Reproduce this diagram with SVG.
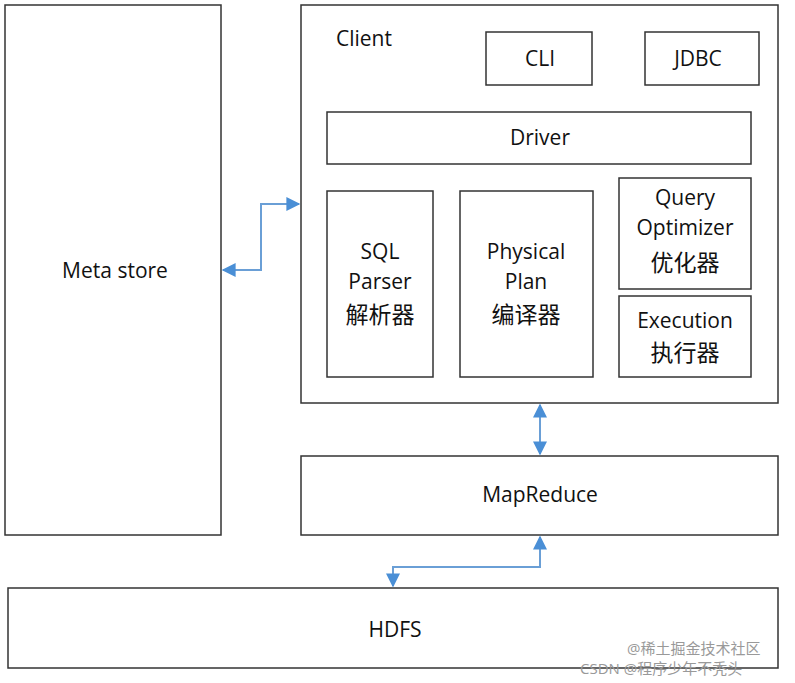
<svg xmlns="http://www.w3.org/2000/svg" width="795" height="683" viewBox="0 0 795 683">
<style>
rect{fill:#fff;stroke:#333;stroke-width:1.5}
text{font-family:"Open Sans","Noto Sans CJK SC",sans-serif;font-size:21px;fill:#111;text-anchor:middle}
.z{font-size:23px}
.c{fill:none;stroke:#6a9fd6;stroke-width:2}
.w{font-size:15px;fill:#999;text-anchor:start}
</style>
<defs><marker id="b" viewBox="0 0 10 10" refX="9" refY="5" markerWidth="20" markerHeight="14" orient="auto-start-reverse" markerUnits="userSpaceOnUse"><path d="M0,0L10,5L0,10z" fill="#4a8fd6"/></marker></defs>
<rect width="795" height="683" style="stroke:none"/>
<g id="metastore"><rect x="5" y="5" width="216" height="530"/><text x="115" y="278">Meta store</text></g>
<g id="client"><rect x="301" y="5" width="477" height="398"/><text x="364" y="46">Client</text></g>
<g id="cli"><rect x="486" y="32" width="106" height="53"/><text x="540" y="66">CLI</text></g>
<g id="jdbc"><rect x="645" y="32" width="114" height="53"/><text x="698" y="66">JDBC</text></g>
<g id="driver"><rect x="327" y="112" width="424" height="52"/><text x="540" y="145">Driver</text></g>
<g id="sql"><rect x="327" y="191" width="106" height="186"/><text x="380" y="259">SQL</text><text x="380" y="289">Parser</text><text class="z" x="380" y="323">解析器</text></g>
<g id="phys"><rect x="460" y="191" width="133" height="186"/><text x="526" y="259">Physical</text><text x="526" y="289">Plan</text><text class="z" x="526" y="323">编译器</text></g>
<g id="opt"><rect x="619" y="178" width="132" height="111"/><text x="685" y="205">Query</text><text x="685" y="235">Optimizer</text><text class="z" x="685" y="271">优化器</text></g>
<g id="exec"><rect x="619" y="296" width="132" height="81"/><text x="685" y="328">Execution</text><text class="z" x="685" y="361">执行器</text></g>
<g id="mapreduce"><rect x="301" y="456" width="477" height="79"/><text x="540" y="502">MapReduce</text></g>
<g id="hdfs"><rect x="8" y="588" width="770" height="80"/><text x="395" y="637">HDFS</text></g>
<g id="connectors">
<path class="c" d="M223,270H261V204H299" marker-start="url(#b)" marker-end="url(#b)"/>
<path class="c" d="M540,405V454" marker-start="url(#b)" marker-end="url(#b)"/>
<path class="c" d="M540,537V567H393V586" marker-start="url(#b)" marker-end="url(#b)"/>
</g>
<text class="w" x="627" y="654">@稀土掘金技术社区</text>
<text class="w" x="580" y="674">CSDN @程序少年不秃头</text>
</svg>
